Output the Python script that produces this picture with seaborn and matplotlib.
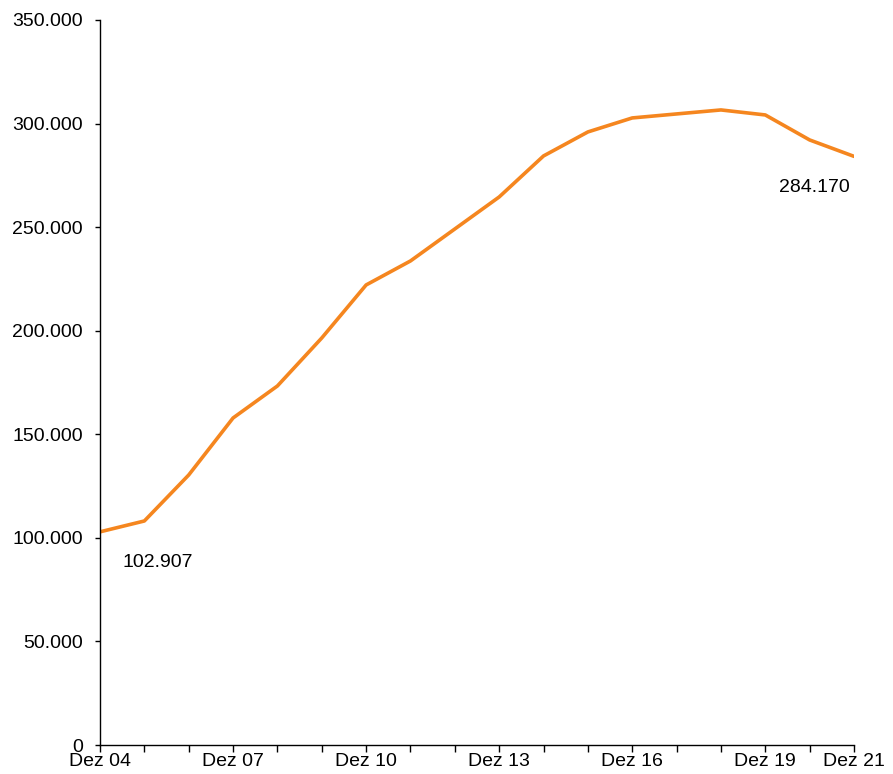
import matplotlib
matplotlib.use("Agg")
import matplotlib.pyplot as plt
import seaborn as sns
import pandas as pd

years = list(range(2004, 2022))
values = [102907, 108150, 130350, 157870, 173330, 196500, 222090, 233680, 249120,
          264570, 284370, 295960, 302720, 304650, 306580, 304160, 292090, 284170]
label_years = [2004, 2007, 2010, 2013, 2016, 2019, 2021]
label_texts = ["Dez 04", "Dez 07", "Dez 10", "Dez 13", "Dez 16", "Dez 19", "Dez 21"]
y_ticks = [0, 50000, 100000, 150000, 200000, 250000, 300000, 350000]
y_labels = ["0", "50.000", "100.000", "150.000", "200.000", "250.000", "300.000", "350.000"]
first_label = "102.907"
last_label = "284.170"

sns.set_theme(style="white")
plt.rcParams['font.family'] = ['Liberation Sans', 'DejaVu Sans']
plt.rcParams['text.color'] = 'black'
plt.rcParams['xtick.color'] = 'black'
plt.rcParams['ytick.color'] = 'black'

df = pd.DataFrame({"year": years, "value": values})

fig = plt.figure(figsize=(8.93, 7.74), dpi=100)
ax = fig.add_axes([100/893, 29/774, 754/893, 725/774])
sns.lineplot(data=df, x="year", y="value", ax=ax, color="#F5861F", linewidth=2.6)

ax.set_xlim(2004, 2021)
ax.set_ylim(0, 350000)
ax.set_xticks(years)
ax.set_xticklabels([label_texts[label_years.index(y)] if y in label_years else "" for y in years])
ax.set_yticks(y_ticks)
ax.set_yticklabels(y_labels)
ax.set_xlabel("")
ax.set_ylabel("")

for s in ["top", "right"]:
    ax.spines[s].set_visible(False)
for s in ["left", "bottom"]:
    ax.spines[s].set_color("black")
    ax.spines[s].set_linewidth(1.0)

ax.tick_params(axis="y", direction="out", length=3.5, width=1, color="black",
               labelcolor="black", labelsize=14, pad=9, left=True)
ax.tick_params(axis="x", direction="out", length=5, width=1, color="black",
               labelcolor="black", labelsize=14, pad=1, bottom=True)

ax.annotate(first_label, xy=(years[0], values[0]), xytext=(58, -31),
            textcoords="offset pixels", ha="center", va="center", fontsize=14,
            color="black")
ax.annotate(last_label, xy=(years[-1], values[-1]), xytext=(-40, -31),
            textcoords="offset pixels", ha="center", va="center", fontsize=14,
            color="black")

fig.savefig("out.png", dpi=100)
